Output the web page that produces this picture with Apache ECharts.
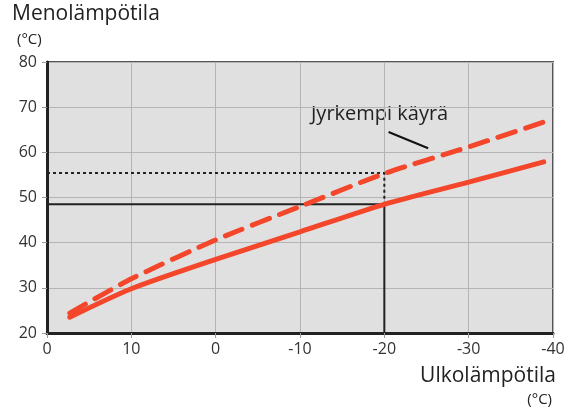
<!DOCTYPE html>
<html><head><meta charset="utf-8">
<script src="https://cdn.jsdelivr.net/npm/echarts@6/dist/echarts.min.js"></script>
<style>html,body{margin:0;padding:0;background:#fff}#c{width:571px;height:412px}</style>
</head><body><div id="c"></div>
<script>
// Outdoor temperature (x) and flow temperature curves
const outdoor = [17.3, 10, 0, -10, -20, -30, -38.9];
const normalCurve = [23.5, 29.8, 36.3, 42.4, 48.5, 53.4, 57.9];
const steeperCurve = [24.4, 32.0, 40.6, 48.0, 55.3, 61.2, 66.7];
const xTickLabels = ["0", "10", "0", "-10", "-20", "-30", "-40"];
const refX = -20;
const refNormal = 48.5;
const refSteeper = 55.4;
const leader = [[-20.5, 64.5], [-25.2, 60.9]];

const font = '"Open Sans", "Noto Sans", sans-serif';
const red = '#f3462a';
const chart = echarts.init(document.getElementById('c'));
chart.setOption({
  animation: false,
  grid: {left: 47, right: 18, top: 62, bottom: 79, show: true, backgroundColor: '#e0e0e0', borderColor: '#555', borderWidth: 2},
  xAxis: {
    type: 'value', min: -40, max: 20, interval: 10, inverse: true,
    axisLine: {show: true, onZero: false, lineStyle: {color: '#222', width: 3}},
    axisTick: {show: true, length: 5, lineStyle: {color: '#999', width: 1}},
    axisLabel: {margin: 8, fontSize: 16, color: '#333', fontFamily: font,
      formatter: v => xTickLabels[Math.round((20 - v) / 10)]},
    splitLine: {show: true, lineStyle: {color: '#b4b4b4', width: 1}}
  },
  yAxis: {
    type: 'value', min: 20, max: 80, interval: 10,
    axisLine: {show: true, onZero: false, lineStyle: {color: '#222', width: 3}},
    axisTick: {show: true, length: 5, lineStyle: {color: '#999', width: 1}},
    axisLabel: {margin: 10, fontSize: 16, color: '#333', fontFamily: font},
    splitLine: {show: true, lineStyle: {color: '#b4b4b4', width: 1}}
  },
  series: [
    {type: 'line', data: [[20, refSteeper], [refX, refSteeper], [refX, refNormal]], symbol: 'none',
      lineStyle: {color: '#222', width: 2, type: [3, 3]}, z: 3},
    {type: 'line', data: [[20, refNormal], [refX, refNormal], [refX, 20]], symbol: 'none',
      lineStyle: {color: '#222', width: 2}, z: 3},
    {type: 'line', data: leader, symbol: 'none', lineStyle: {color: '#111', width: 2}, z: 3},
    {type: 'line', data: outdoor.map((x, i) => [x, normalCurve[i]]), symbol: 'none', smooth: 0.25,
      lineStyle: {color: red, width: 5, cap: 'round'}, z: 4},
    {type: 'line', data: outdoor.map((x, i) => [x, steeperCurve[i]]), symbol: 'none', smooth: 0.25,
      lineStyle: {color: red, width: 5, type: [18, 11], cap: 'round'}, z: 4}
  ],
  graphic: [
    {type: 'text', left: 12, top: 4, style: {text: 'Menolämpötila', font: '21px ' + font, fill: '#222'}},
    {type: 'text', left: 17, top: 32, style: {text: '(°C)', font: '15px ' + font, fill: '#222'}},
    {type: 'text', right: 15, top: 366, style: {text: 'Ulkolämpötila', font: '21px ' + font, fill: '#222'}},
    {type: 'text', right: 19, top: 392, style: {text: '(°C)', font: '15px ' + font, fill: '#222'}},
    {type: 'text', left: 311, top: 104, style: {text: 'Jyrkempi käyrä', font: '20px ' + font, fill: '#222'}}
  ]
});
</script></body></html>
